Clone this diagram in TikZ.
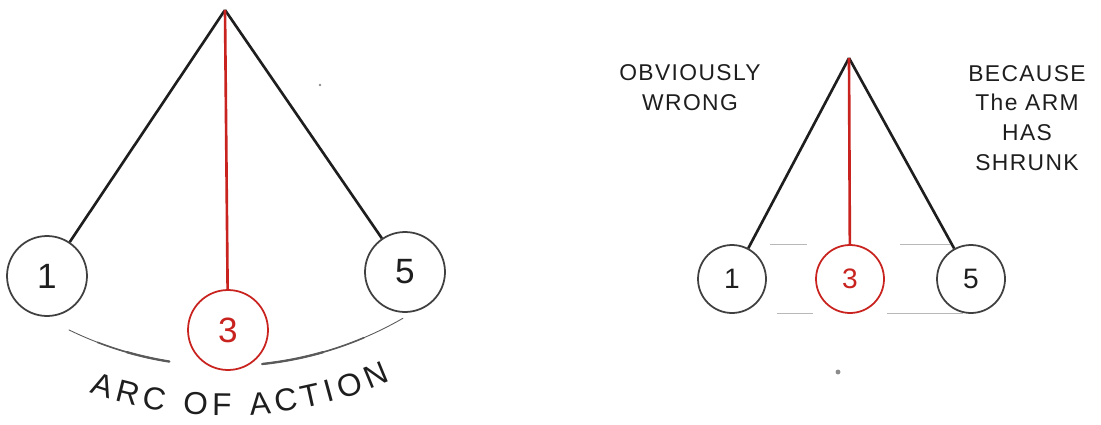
\documentclass[tikz,border=0pt]{standalone}
\usepackage{fontspec}
\setsansfont{Liberation Sans}
\usetikzlibrary{decorations.text}
\definecolor{inkred}{HTML}{C8231F}
\definecolor{ink}{HTML}{1E1E1E}
\definecolor{pencil}{HTML}{5A5A5A}
\tikzset{x=0.02cm,y=0.02cm,
  every node/.style={font=\sffamily},
  arm/.style={draw=ink,line width=1.5pt},
  redarm/.style={draw=inkred,line width=1.5pt},
  bob/.style={circle,draw=ink!85,line width=1pt,fill=white,inner sep=0pt,
    minimum size=1.6cm,text=ink,font=\sffamily\fontsize{20}{20}\selectfont},
  redbob/.style={bob,draw=inkred,text=inkred},
  smallbob/.style={bob,minimum size=1.36cm,font=\sffamily\fontsize{16}{16}\selectfont},
  smallredbob/.style={smallbob,draw=inkred,text=inkred},
  guide/.style={draw=black!28,line width=.5pt},
  arcline/.style={draw=pencil,line cap=round},
  note/.style={align=center,text=ink,font=\sffamily\fontsize{13}{17}\selectfont\addfontfeature{LetterSpace=6}}}

\begin{document}
\begin{tikzpicture}
\useasboundingbox(0,0)rectangle(1101,424);
% left: arc of action
\coordinate(lp)at(225,414);
\node[bob](l1)at(47,148){1};\node[redbob](l3)at(228,94){3};\node[bob](l5)at(405,152){5};
\draw[arm](lp)--(l1);\draw[arm](lp)--(l5);\draw[redarm](lp)--(l3);
\foreach \w/\a in {.5/244,.9/249,1.3/254}
  \draw[arcline,line width=\w pt]([shift={(\a:7.12cm)}]lp)arc[start angle=\a,end angle=261,radius=7.12cm];
\foreach \w/\b in {.5/300,.9/293,1.3/286}
  \draw[arcline,line width=\w pt]([shift={(276:7.12cm)}]lp)arc[start angle=276,end angle=\b,radius=7.12cm];
\path[decorate,decoration={text along path,text align={fit to path},text color=ink,
  text={|\sffamily\fontsize{18}{18}\selectfont|ARC OF ACTION}}]
  ([shift={(250.5:8.12cm)}]lp)arc[start angle=250.5,end angle=294,radius=8.12cm];
\fill[black!45](320,339)circle(.8pt);
% right: shrunk arm
\coordinate(rp)at(849,366);
\node[smallbob](r1)at(732,145){1};\node[smallredbob](r3)at(850,145){3};\node[smallbob](r5)at(971,145){5};
\draw[guide,shorten <=.76cm,shorten >=.86cm](r1.north)--(r3.north);
\draw[guide,shorten <=1cm,shorten >=.42cm](r3.north)--(r5.north);
\draw[guide,shorten <=.9cm,shorten >=.74cm](r1.south)--(r3.south);
\draw[guide,shorten <=.74cm,shorten >=.16cm](r3.south)--(r5.south);
\draw[arm](rp)--(r1);\draw[arm](rp)--(r5);\draw[redarm](rp)--(r3);
\node[note](wrong)at(690,336){OBVIOUSLY\\WRONG};
\node[note](shrunk)at(1027,306){BECAUSE\\The ARM\\HAS\\SHRUNK};
\fill[black!45](838,52)circle(1.4pt);
\end{tikzpicture}
\end{document}
